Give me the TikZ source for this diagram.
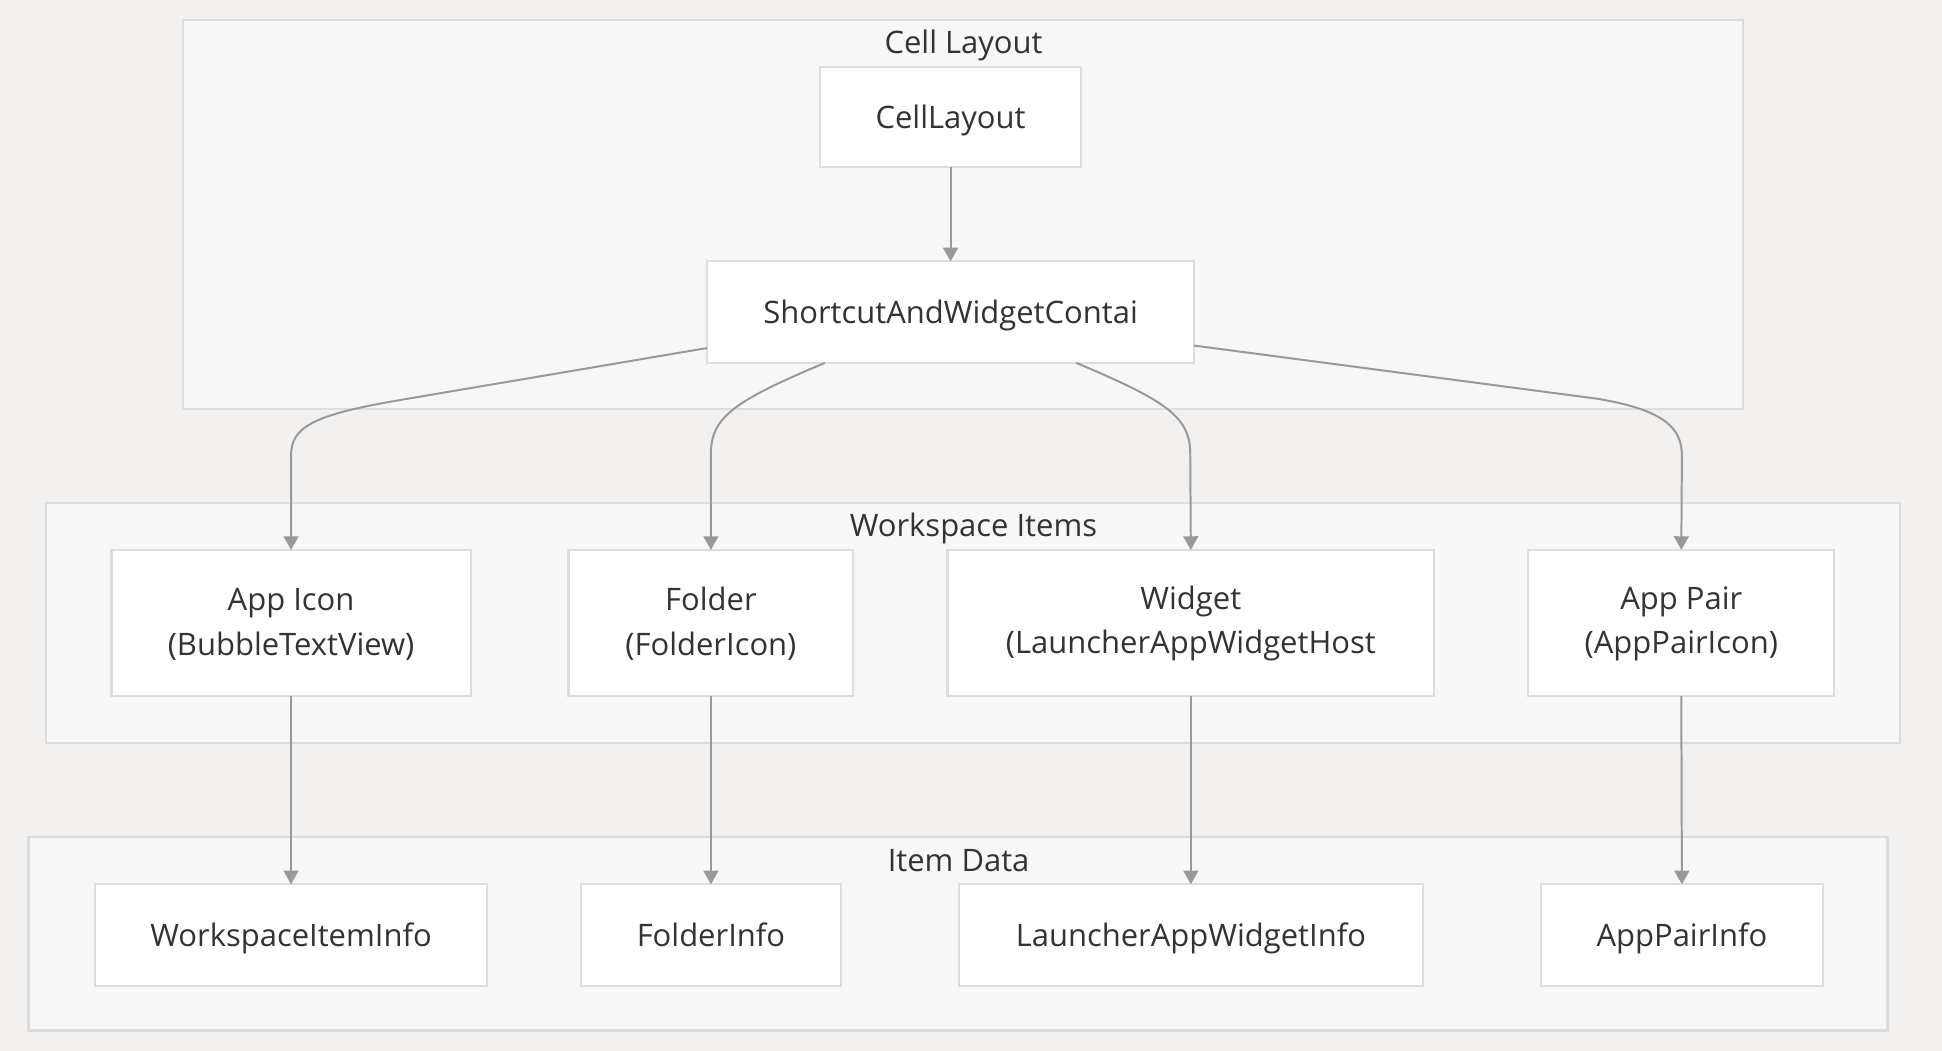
\documentclass[tikz,border=0pt]{standalone}
\usepackage{fontspec}
\setmainfont{Open Sans}
\usetikzlibrary{arrows.meta,calc}
\definecolor{bgc}{HTML}{F2F1EF}
\definecolor{clfill}{HTML}{F7F7F7}
\definecolor{clline}{HTML}{DDDDDD}
\definecolor{ndline}{HTML}{DDDDDD}
\definecolor{edge}{HTML}{999999}
\definecolor{txt}{HTML}{333333}
\tikzset{
  cluster/.style={draw=clline, line width=0.9pt, fill=clfill, inner sep=0pt, outer sep=0pt},
  box/.style={draw=ndline, line width=0.9pt, fill=white, inner sep=0pt, outer sep=0pt, align=center,
    text=txt, font=\fontsize{12.5}{18}\selectfont},
  onebox/.style={box, text height=11pt, text depth=1.5pt},
  cltitle/.style={text=txt, font=\fontsize{12.5}{18}\selectfont, inner sep=0pt, text height=11pt, text depth=1.5pt},
  conn/.style={draw=edge, line width=0.8pt, -{Triangle[width=6pt,length=5.5pt]}}
}
\begin{document}
\begin{tikzpicture}[x=0.5pt,y=-0.5pt]
\fill[bgc] (0,0) rectangle (1568,848.6);
\useasboundingbox (0,0) rectangle (1568,848.6);
% clusters
\node[cluster, minimum width=629.5pt, minimum height=157pt] (cl1) at (777.5,173) {};
\node[cluster, minimum width=748.5pt, minimum height=97pt] (cl2) at (785.5,503) {};
\node[cluster, minimum width=750.5pt, minimum height=78pt] (cl3) at (773.5,754) {};
\node[cltitle] (t1) at (778,34) {Cell Layout};
\node[cltitle] (t2) at (786,424) {Workspace Items};
\node[cltitle] (t3) at (774,694) {Item Data};
% nodes
\node[onebox, minimum width=105.5pt, minimum height=40.5pt] (cell) at (767.5,94.5) {CellLayout};
\node[onebox, minimum width=196.5pt, minimum height=41pt] (sawc) at (767.5,252) {ShortcutAndWidgetContai};
\node[box, minimum width=145pt, minimum height=59pt] (app) at (235,503) {\rule{0pt}{10pt}App Icon\\(BubbleTextView)};
\node[box, minimum width=115pt, minimum height=59pt] (folder) at (574,503) {\rule{0pt}{10pt}Folder\\(FolderIcon)};
\node[box, minimum width=196.5pt, minimum height=59pt] (widget) at (961.5,503) {\rule{0pt}{10pt}Widget\\(LauncherAppWidgetHost};
\node[box, minimum width=123.5pt, minimum height=59pt] (pair) at (1357.5,503) {\rule{0pt}{10pt}App Pair\\(AppPairIcon)};
\node[onebox, minimum width=158pt, minimum height=41pt] (wii) at (235,755) {WorkspaceItemInfo};
\node[onebox, minimum width=105pt, minimum height=41pt] (fi) at (574,755) {FolderInfo};
\node[onebox, minimum width=187.5pt, minimum height=41pt] (lawi) at (961.5,755) {LauncherAppWidgetInfo};
\node[onebox, minimum width=114pt, minimum height=41pt] (api) at (1358,755) {AppPairInfo};
% connectors
\draw[conn] (cell.south) -- (sawc.north);
\draw[conn] ($(sawc.south west)+(0,-12)$) -- (323,323) .. controls (252,335) and (235,345) .. (235,368) -- (app.north);
\draw[conn] ($(sawc.south)+(-101.5,0)$) .. controls (595,323) and (574,336) .. (574,366) -- (folder.north);
\draw[conn] ($(sawc.south)+(101.5,0)$) .. controls (940,323) and (961,336) .. (961,366) -- (widget.north);
\draw[conn] ($(sawc.south east)+(0,-14)$) -- (1290,322) .. controls (1343,331) and (1358,345) .. (1358,368) -- (pair.north);
\draw[conn] (app.south) -- (wii.north);
\draw[conn] (folder.south) -- (fi.north);
\draw[conn] (widget.south) -- (lawi.north);
\draw[conn] (pair.south) -- (api.north);
\end{tikzpicture}
\end{document}
